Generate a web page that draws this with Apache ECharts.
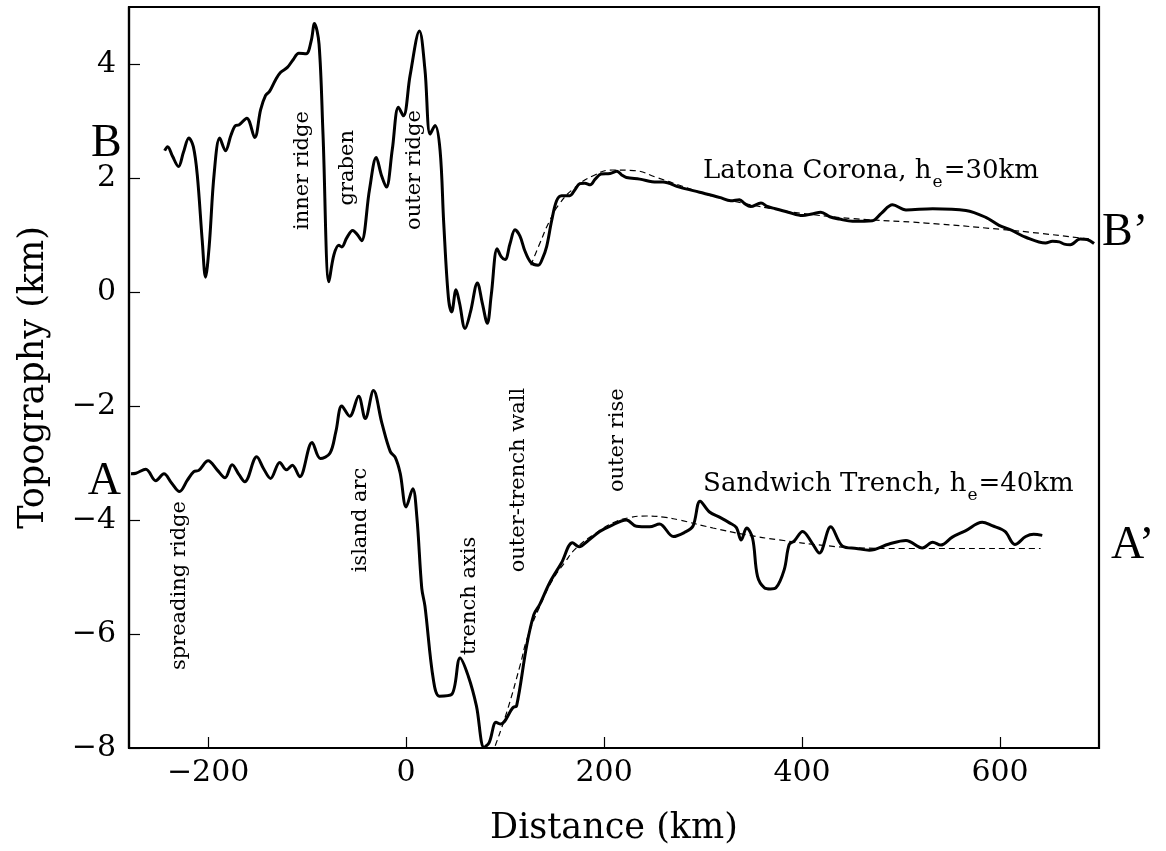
<!DOCTYPE html>
<html>
<head>
<meta charset="utf-8">
<script src="https://cdn.jsdelivr.net/npm/echarts@6/dist/echarts.min.js"></script>
<style>
html,body{margin:0;padding:0;background:#fff;}
#chart{width:1166px;height:851px;}
</style>
</head>
<body>
<div id="chart"></div>
<script>
// ---- Data (km, km) ----
const bDistance = [-244,-241,-236,-230,-225,-219.5,-215,-211,-206,-202.7,-199,-194,-188.3,-182.5,-177,-172.4,-169,-161,-153,-147,-142,-138,-132,-127,-120,-114,-108.5,-101,-96,-92.6,-88,-84,-78,-73,-68,-65,-60,-54,-49,-45,-37,-30.2,-25,-20,-14,-7.8,-2.7,4,13.4,19,24.2,29.2,34.3,38,42.7,46,50.4,54,59.5,65,72,77,82,86,92,96,100,105,110,115,120,126,133.4,138,142,147,152,157,165.4,170,175.5,180.5,186,191,197,206,213,218,222.5,236,253,259.5,276,296.5,316.6,328,336.8,342,348,358.5,365,373,386,400.6,410,419,428,437.6,451,471,480,491.4,505,532,565.5,585.6,599,612,626,646,653,659.8,665,671,681,688,695];
const bTopography = [2.48,2.55,2.38,2.20,2.45,2.70,2.55,2.05,0.9,0.26,0.8,2.07,2.70,2.48,2.75,2.92,2.93,3.05,2.71,3.2,3.45,3.52,3.72,3.85,3.94,4.08,4.19,4.18,4.4,4.71,4.35,2.77,0.18,0.65,0.82,0.79,0.95,1.08,1.0,0.90,1.8,2.36,2.05,1.84,2.5,3.24,3.09,3.8,4.58,3.9,2.77,2.92,2.48,1.2,-0.1,-0.35,0.04,-0.2,-0.64,-0.35,0.16,-0.2,-0.55,-0.05,0.76,0.62,0.57,0.85,1.09,0.98,0.72,0.52,0.47,0.6,0.8,1.25,1.60,1.69,1.69,1.78,1.90,1.91,1.88,1.98,2.07,2.08,2.12,2.05,2.01,1.98,1.93,1.93,1.84,1.75,1.66,1.60,1.62,1.55,1.50,1.56,1.50,1.46,1.40,1.34,1.37,1.40,1.32,1.28,1.24,1.25,1.38,1.53,1.44,1.46,1.43,1.31,1.17,1.08,0.96,0.86,0.89,0.88,0.84,0.83,0.93,0.92,0.85];

const bModelDistance = [126,135,145,155,169,189,209,230,253,280,310,340,377,400,450,525,600,640,690];
const bModelTopography = [0.47,0.85,1.25,1.55,1.81,2.04,2.14,2.13,2.01,1.85,1.68,1.56,1.44,1.38,1.29,1.21,1.10,1.03,0.93];

const aDistance = [-278,-273,-263,-253,-244.7,-237,-229,-221,-214.5,-209.5,-200,-191,-183,-175.8,-169,-163,-151,-144,-137,-127.7,-121,-115,-107.5,-95,-86.7,-77,-71,-65,-57,-48,-41.3,-33,-24.5,-16,-11,-6,0,6.7,10.8,15.8,19,27.5,33.6,46,54.5,62.8,71,78.7,84,90.8,95.5,108,111.6,121.7,129,135,145,157,168,174.8,184,195.6,205.7,222.5,232.6,246,256,270,281,289.7,297,306.5,316.6,326.7,333.5,338.5,344,350,355,362,368,373.6,382,387,392,400.6,410,417.5,429,441,455,468,488,505,521.6,532,540,551.8,565,582,592,605,615,626,634,642.7];
const aTopography = [-3.19,-3.18,-3.11,-3.31,-3.19,-3.35,-3.50,-3.30,-3.15,-3.13,-2.96,-3.12,-3.26,-3.03,-3.2,-3.33,-2.89,-3.1,-3.27,-2.99,-3.12,-3.04,-3.24,-2.64,-2.92,-2.83,-2.45,-2.0,-2.18,-1.83,-2.22,-1.73,-2.30,-2.80,-2.90,-3.18,-3.77,-3.45,-3.94,-5.2,-5.51,-6.80,-7.09,-7.06,-6.42,-6.74,-7.26,-7.99,-7.9,-7.55,-7.58,-7.29,-7.26,-6.21,-5.66,-5.48,-5.10,-4.75,-4.40,-4.47,-4.36,-4.20,-4.11,-4.0,-4.11,-4.12,-4.07,-4.29,-4.22,-4.11,-3.67,-3.86,-3.95,-4.05,-4.13,-4.35,-4.14,-4.32,-4.99,-5.19,-5.21,-5.19,-4.87,-4.43,-4.37,-4.20,-4.4,-4.58,-4.12,-4.46,-4.5,-4.53,-4.42,-4.36,-4.49,-4.39,-4.44,-4.30,-4.19,-4.04,-4.10,-4.20,-4.43,-4.29,-4.25,-4.27];

const aModelDistance = [90,101.5,115,123,138,148,160,172,190,209,225,243,260,276,310,344,377,424,458,500,641];
const aModelTopography = [-7.96,-7.38,-6.56,-6.04,-5.40,-5.05,-4.75,-4.49,-4.25,-4.05,-3.96,-3.93,-3.95,-4.0,-4.14,-4.26,-4.35,-4.45,-4.49,-4.50,-4.50];

const xTicks = [-200, 0, 200, 400, 600];
const yTicks = [-8, -6, -4, -2, 0, 2, 4];

// annotation texts (placed in data coordinates)
const rotatedNotes = [
  {text: 'inner ridge', at: [-105, 2.13]},
  {text: 'graben', at: [-59, 2.18]},
  {text: 'outer ridge', at: [8, 2.14]},
  {text: 'spreading ridge', at: [-229, -5.15]},
  {text: 'island arc', at: [-46, -4.0]},
  {text: 'trench axis', at: [64, -5.33]},
  {text: 'outer-trench wall', at: [114, -3.3]},
  {text: 'outer rise', at: [214, -2.6]}
];
const bigLetters = [
  {text: 'B', at: [-303, 2.59], align: 'center'},
  {text: 'A', at: [-305, -3.34], align: 'center'},
  {text: 'B\u2019', at: [703, 1.04], align: 'left'},
  {text: 'A\u2019', at: [712, -4.45], align: 'left'}
];
const profileTitles = [
  {main: 'Latona Corona, h', sub: 'e', tail: '=30km', at: [300, 2.11]},
  {main: 'Sandwich Trench, h', sub: 'e', tail: '=40km', at: [300, -3.38]}
];

const pairs = (xs, ys) => xs.map((x, i) => [x, ys[i]]);
const fmt = v => (v < 0 ? '\u2212' + Math.abs(v) : String(v));

const chart = echarts.init(document.getElementById('chart'), null, {renderer: 'canvas'});
const SERIF = '"DejaVu Serif", serif';

chart.setOption({
  animation: false,
  backgroundColor: '#fff',
  grid: {left: 129, right: 67, top: 7, bottom: 102, show: true, borderColor: '#000', borderWidth: 2.2},
  xAxis: {
    type: 'value', min: -280, max: 700,
    name: 'Distance (km)', nameLocation: 'middle', nameGap: 63,
    nameTextStyle: {fontFamily: SERIF, fontSize: 35, color: '#000'},
    axisLine: {show: true, onZero: false, lineStyle: {color: '#000', width: 2.2}},
    axisTick: {show: true, inside: true, length: 11, customValues: xTicks, lineStyle: {color: '#000', width: 1.2}},
    axisLabel: {customValues: xTicks, formatter: fmt, fontFamily: SERIF, fontSize: 30, color: '#000', margin: 10},
    splitLine: {show: false}
  },
  yAxis: {
    type: 'value', min: -8, max: 5,
    name: 'Topography (km)', nameLocation: 'middle', nameGap: 78,
    nameTextStyle: {fontFamily: SERIF, fontSize: 35, color: '#000'},
    axisLine: {show: true, onZero: false, lineStyle: {color: '#000', width: 2.2}},
    axisTick: {show: true, inside: true, length: 11, customValues: yTicks, lineStyle: {color: '#000', width: 1.2}},
    axisLabel: {customValues: yTicks, formatter: fmt, fontFamily: SERIF, fontSize: 30, color: '#000', margin: 13},
    splitLine: {show: false}
  },
  series: [
    {type: 'line', data: pairs(bModelDistance, bModelTopography), smooth: 0.5, symbol: 'none',
     lineStyle: {color: '#000', width: 1.2, type: [6, 4]}, z: 2},
    {type: 'line', data: pairs(aModelDistance, aModelTopography), smooth: 0.5, symbol: 'none',
     lineStyle: {color: '#000', width: 1.2, type: [6, 4]}, z: 2},
    {type: 'line', data: pairs(bDistance, bTopography), smooth: 0.35, symbol: 'none',
     lineStyle: {color: '#000', width: 3}, z: 3},
    {type: 'line', data: pairs(aDistance, aTopography), smooth: 0.35, symbol: 'none',
     lineStyle: {color: '#000', width: 3}, z: 3}
  ]
});

const measureCtx = document.createElement('canvas').getContext('2d');
const measure = (text, font) => { measureCtx.font = font; return measureCtx.measureText(text).width; };

const px = at => chart.convertToPixel({gridIndex: 0}, at);
const graphics = [];
rotatedNotes.forEach(n => {
  const p = px(n.at);
  graphics.push({type: 'text', x: p[0], y: p[1], rotation: Math.PI / 2, z: 10,
    style: {text: n.text, font: '21px ' + SERIF, fill: '#000', align: 'center', verticalAlign: 'middle'}});
});
bigLetters.forEach(n => {
  const p = px(n.at);
  graphics.push({type: 'text', x: p[0], y: p[1], z: 10,
    style: {text: n.text, font: '46px "Liberation Serif", serif', fill: '#000', align: n.align, verticalAlign: 'middle'}});
});
profileTitles.forEach(t => {
  const p = px(t.at);
  const mainFont = '26px ' + SERIF, subFont = '17px ' + SERIF;
  const w1 = measure(t.main, mainFont);
  const w2 = measure(t.sub, subFont);
  graphics.push({type: 'text', x: p[0], y: p[1], z: 10,
    style: {text: t.main, font: mainFont, fill: '#000', align: 'left', verticalAlign: 'middle'}});
  graphics.push({type: 'text', x: p[0] + w1 + 1, y: p[1] + 11, z: 10,
    style: {text: t.sub, font: subFont, fill: '#000', align: 'left', verticalAlign: 'middle'}});
  graphics.push({type: 'text', x: p[0] + w1 + w2 + 2, y: p[1], z: 10,
    style: {text: t.tail, font: mainFont, fill: '#000', align: 'left', verticalAlign: 'middle'}});
});
chart.setOption({graphic: graphics});
</script>
</body>
</html>
